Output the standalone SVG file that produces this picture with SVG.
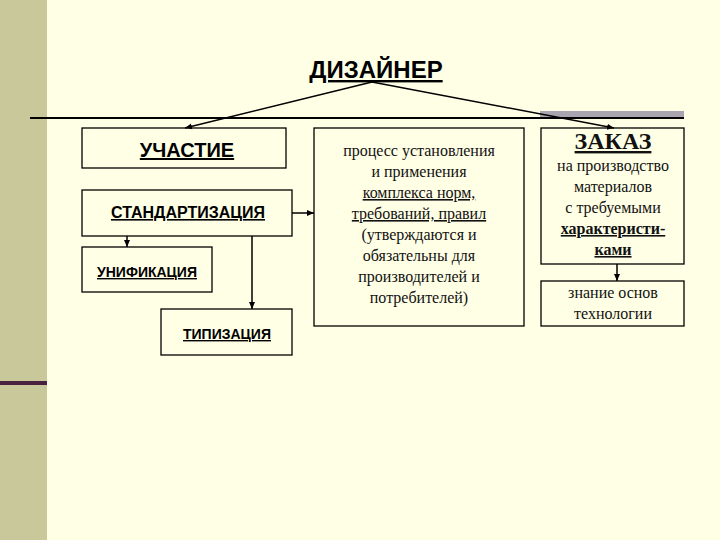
<svg xmlns="http://www.w3.org/2000/svg" width="720" height="540" viewBox="0 0 720 540">
<defs>
<style>
.b{fill:none;stroke:#000;stroke-width:1.3}
.c{stroke:#000;stroke-width:1.5;fill:none}
.s{font-family:"Liberation Sans",Arial,sans-serif;font-weight:bold;text-anchor:middle;text-decoration:underline}
.t{font-family:"Liberation Serif","DejaVu Serif",serif;text-anchor:middle;fill:#111}
</style>
<marker id="a" markerWidth="8" markerHeight="8" refX="7" refY="4" orient="auto" markerUnits="userSpaceOnUse"><path d="M0,1 L7,4 L0,7 Z" fill="#000"/></marker>
</defs>
<rect width="720" height="540" fill="#FFFFE6"/>
<rect x="0" y="0" width="47" height="540" fill="#C8C89A"/>
<rect x="0" y="381" width="47" height="4" fill="#4A2040"/>
<rect x="540" y="111" width="144" height="7" fill="#A8A4B0"/>
<line x1="30" y1="118" x2="684" y2="118" stroke="#000" stroke-width="2"/>
<g id="designer"><text x="376" y="78" class="s" style="font-size:24px">ДИЗАЙНЕР</text></g>
<g id="uchastie"><rect x="82" y="128" width="204" height="40" class="b"/><text x="187" y="157" class="s" style="font-size:20px">УЧАСТИЕ</text></g>
<g id="standart"><rect x="82" y="190" width="210" height="46" class="b"/><text x="188" y="218" class="s" style="font-size:16px">СТАНДАРТИЗАЦИЯ</text></g>
<g id="unif"><rect x="82" y="247" width="130" height="45" class="b"/><text x="147" y="277" class="s" style="font-size:14px">УНИФИКАЦИЯ</text></g>
<g id="tipiz"><rect x="161" y="309" width="131" height="46" class="b"/><text x="227" y="339" class="s" style="font-size:14px">ТИПИЗАЦИЯ</text></g>
<g id="process"><rect x="314" y="128" width="210" height="198" class="b"/>
<text class="t" style="font-size:16px"><tspan x="419" y="156">процесс установления</tspan><tspan x="419" y="177">и применения</tspan><tspan x="419" y="198" text-decoration="underline">комплекса норм,</tspan><tspan x="419" y="219" text-decoration="underline">требований, правил</tspan><tspan x="419" y="240">(утверждаются и</tspan><tspan x="419" y="261">обязательны для</tspan><tspan x="419" y="282">производителей и</tspan><tspan x="419" y="303">потребителей)</tspan></text></g>
<g id="zakaz"><rect x="541" y="128" width="143" height="136" class="b"/>
<text x="613" y="149" class="t" style="font-size:24px;font-weight:bold;text-decoration:underline">ЗАКАЗ</text>
<text class="t" style="font-size:16px"><tspan x="613" y="171">на производство</tspan><tspan x="613" y="192">материалов</tspan><tspan x="613" y="213">с требуемыми</tspan><tspan x="613" y="234" font-weight="bold" text-decoration="underline">характеристи-</tspan><tspan x="613" y="255" font-weight="bold" text-decoration="underline">ками</tspan></text></g>
<g id="tech"><rect x="541" y="281" width="143" height="45" class="b"/>
<text class="t" style="font-size:16px"><tspan x="613" y="298">знание основ</tspan><tspan x="613" y="319">технологии</tspan></text></g>
<g id="connectors">
<line x1="372" y1="82" x2="185" y2="128" class="c" marker-end="url(#a)"/>
<line x1="372" y1="82" x2="614" y2="128" class="c" marker-end="url(#a)"/>
<line x1="292" y1="213" x2="314" y2="213" class="c" marker-end="url(#a)"/>
<line x1="127" y1="236" x2="127" y2="247" class="c" marker-end="url(#a)"/>
<line x1="252" y1="236" x2="252" y2="309" class="c" marker-end="url(#a)"/>
<line x1="617" y1="264" x2="617" y2="281" class="c" marker-end="url(#a)"/>
</g>
</svg>
